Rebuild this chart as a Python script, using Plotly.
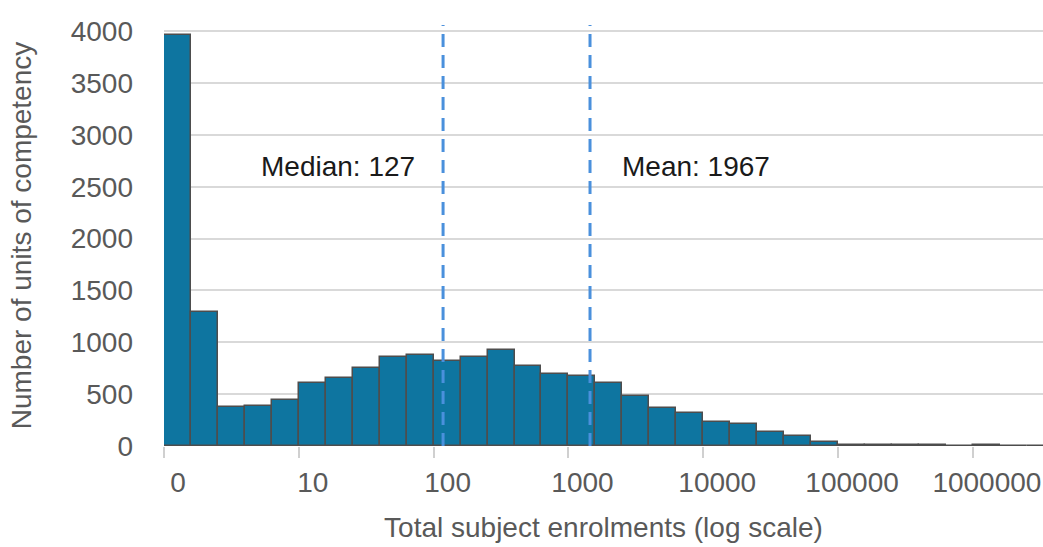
import numpy as np
import plotly.graph_objects as go

# Histogram bins: log10 lower edges of each bin (5 bins per decade), first bin holds 0 enrolments
bin_width_log10 = 0.2
bin_lower_log10 = np.round(np.arange(0, 6.6, bin_width_log10), 1)
counts = [3960, 1290, 375, 390, 445, 605, 660, 750, 860, 875,
          820, 855, 930, 770, 695, 675, 605, 480, 370, 315,
          228, 212, 135, 97, 35, 8, 7, 6, 5, 0, 5, 4, 3]

tick_pos_log10 = [0, 1, 2, 3, 4, 5, 6]
tick_labels = ["0", "10", "100", "1000", "10000", "100000", "1000000"]
y_ticks = [0, 500, 1000, 1500, 2000, 2500, 3000, 3500, 4000]

median_value = 127
mean_value = 1967
median_line_log10 = 2.07   # position of the median marker as drawn
mean_line_log10 = 3.16     # position of the mean marker as drawn

FONT = "Liberation Sans"
GREY = "#595959"

fig = go.Figure()
fig.add_trace(go.Bar(
    x=bin_lower_log10 + bin_width_log10 / 2,
    y=counts,
    width=bin_width_log10,
    marker=dict(color="#0E75A0", line=dict(color="#4d4d4d", width=1.5)),
    hoverinfo="y",
    showlegend=False,
))

for pos in (median_line_log10, mean_line_log10):
    fig.add_shape(type="line", xref="x", yref="y", x0=pos, x1=pos, y0=0, y1=4060,
                  line=dict(color="#4A90DC", width=3, dash="13px,8px"))

fig.add_annotation(x=1.88, y=2700, xref="x", yref="y", xanchor="right", yanchor="middle",
                   text=f"Median: {median_value}", showarrow=False,
                   font=dict(family=FONT, size=28, color="#1a1a1a"))
fig.add_annotation(x=3.38, y=2700, xref="x", yref="y", xanchor="left", yanchor="middle",
                   text=f"Mean: {mean_value}", showarrow=False,
                   font=dict(family=FONT, size=28, color="#1a1a1a"))

fig.update_layout(
    width=1043, height=547,
    margin=dict(l=163.5, r=0, t=25, b=100.5),
    paper_bgcolor="white", plot_bgcolor="white",
    font=dict(family=FONT, size=28, color=GREY),
    bargap=0,
)
fig.update_xaxes(
    range=[0, 6.52],
    tickmode="array", tickvals=tick_pos_log10, ticktext=tick_labels,
    ticks="outside", ticklen=11, tickwidth=1.5, tickcolor="#d0d0d0",
    ticklabelshift=14, ticklabelstandoff=0,
    showgrid=False, zeroline=False, showline=False,
    tickfont=dict(family=FONT, size=28, color=GREY),
    title=dict(text="Total subject enrolments (log scale)", standoff=20,
               font=dict(family=FONT, size=28, color=GREY)),
)
fig.update_yaxes(
    range=[0, 4060],
    tickmode="array", tickvals=y_ticks,
    showgrid=True, gridcolor="#d9d9d9", gridwidth=1.5,
    zeroline=False, showline=False,
    ticklabelstandoff=30,
    tickfont=dict(family=FONT, size=28, color=GREY),
    title=dict(text="Number of units of competency", standoff=30,
               font=dict(family=FONT, size=28, color=GREY)),
)

fig.write_html("out.html",
               config={"displayModeBar": False},
               post_script="document.body.style.margin='0';document.body.style.overflow='hidden';")
